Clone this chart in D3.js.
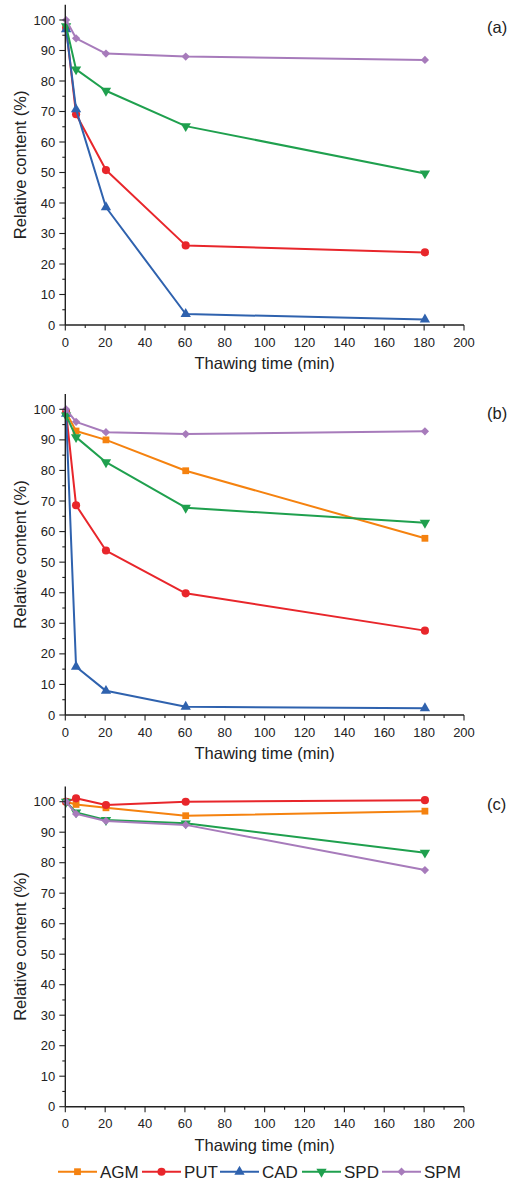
<!DOCTYPE html>
<html><head><meta charset="utf-8">
<script src="https://cdn.jsdelivr.net/npm/d3@7"></script>
<style>
body{margin:0;background:#fff}
svg{display:block}
text{font-family:"Liberation Sans",Arial,sans-serif;fill:#222}
</style>
</head><body>
<svg id="chart" width="512" height="1182"></svg>
<script>
// ---- data ----
const times = [0, 5, 20, 60, 180];
const seriesNames = ["AGM", "PUT", "CAD", "SPD", "SPM"];
const seriesColors = ["#F5820F", "#E8262B", "#2F62AE", "#1FA04E", "#A77BBB"];
const xTickValues = [0, 20, 40, 60, 80, 100, 120, 140, 160, 180, 200];
const yTickValues = [0, 10, 20, 30, 40, 50, 60, 70, 80, 90, 100];
const panelLabels = ["(a)", "(b)", "(c)"];

// panel (a)
const aAGM = null;
const aPUT = [97.5, 69.1, 50.8, 26.1, 23.8];
const aCAD = [97.0, 70.7, 38.6, 3.6, 1.8];
const aSPD = [98.0, 83.8, 76.8, 65.2, 49.7];
const aSPM = [100, 94.0, 89.0, 88.0, 86.9];
// panel (b)
const bAGM = [99.0, 92.9, 90.0, 79.9, 57.8];
const bPUT = [99.0, 68.6, 53.8, 39.8, 27.6];
const bCAD = [98.5, 15.8, 7.9, 2.7, 2.2];
const bSPD = [98.0, 90.9, 82.7, 67.8, 62.9];
const bSPM = [100, 95.9, 92.5, 91.9, 92.8];
// panel (c)
const cAGM = [100, 99.1, 98.0, 95.4, 96.9];
const cPUT = [100, 101.1, 98.9, 100.0, 100.5];
const cCAD = null;
const cSPD = [100, 96.5, 94.0, 92.9, 83.3];
const cSPM = [100, 96.0, 93.7, 92.4, 77.6];

const panelsData = [
  [aAGM, aPUT, aCAD, aSPD, aSPM],
  [bAGM, bPUT, bCAD, bSPD, bSPM],
  [cAGM, cPUT, cCAD, cSPD, cSPM]
];

// ---- layout ----
const svg = d3.select("#chart");
const xLeft = 65.3, xRight = 464;
const panelGeom = [
  {y0: 325, y100: 20, labelY: 33},
  {y0: 715, y100: 409.3, labelY: 419},
  {y0: 1106.7, y100: 801.7, labelY: 810}
];
const axisColor = "#222";

const x = d3.scaleLinear().domain([0, 200]).range([xLeft, xRight]);

const symbolFor = [
  {type: d3.symbolSquare, size: 46, rot: 0},
  {type: d3.symbolCircle, size: 52, rot: 0},
  {type: d3.symbolTriangle, size: 46, rot: 0},
  {type: d3.symbolTriangle, size: 46, rot: 180},
  {type: d3.symbolSquare, size: 34, rot: 45}
];

panelGeom.forEach((pg, pi) => {
  const yTop = pg.y100 - (pg.y0 - pg.y100) * 0.05;
  const y = d3.scaleLinear().domain([0, 105]).range([pg.y0, yTop]);
  const g = svg.append("g");

  // series
  panelsData[pi].forEach((vals, si) => {
    if (!vals) return;
    const pts = times.map((t, i) => [t, vals[i]]);
    const line = d3.line().x(d => x(d[0] + 0.4)).y(d => y(d[1]));
    g.append("path").attr("d", line(pts))
      .attr("fill", "none").attr("stroke", seriesColors[si])
      .attr("stroke-width", 2).attr("stroke-linejoin", "round");
    const sym = symbolFor[si];
    g.selectAll(null).data(pts).enter().append("path")
      .attr("d", d3.symbol().type(sym.type).size(sym.size)())
      .attr("transform", d => `translate(${x(d[0] + 0.4)},${y(d[1])}) rotate(${sym.rot})`)
      .attr("fill", seriesColors[si]);
  });

  // x axis
  const xAxisG = g.append("g").attr("transform", `translate(0,${pg.y0})`);
  xAxisG.append("line").attr("x1", xLeft).attr("x2", xRight).attr("y1", 0).attr("y2", 0)
    .attr("stroke", axisColor).attr("stroke-width", 1.4);
  const xMinor = d3.range(0, 201, 10);
  xAxisG.selectAll(null).data(xMinor).enter().append("line")
    .attr("x1", d => x(d)).attr("x2", d => x(d)).attr("y1", 0)
    .attr("y2", d => d % 20 === 0 ? 5.5 : 3)
    .attr("stroke", axisColor).attr("stroke-width", 1.1);
  xAxisG.selectAll(null).data(xTickValues).enter().append("text")
    .attr("x", d => x(d)).attr("y", 21.5).attr("text-anchor", "middle")
    .attr("font-size", 13).text(d => d);
  xAxisG.append("text").attr("x", (xLeft + xRight) / 2).attr("y", 44)
    .attr("text-anchor", "middle").attr("font-size", 16.5).text("Thawing time (min)");

  // y axis
  const yAxisG = g.append("g");
  yAxisG.append("line").attr("x1", xLeft).attr("x2", xLeft).attr("y1", pg.y0).attr("y2", yTop)
    .attr("stroke", axisColor).attr("stroke-width", 1.4);
  const yMinor = d3.range(0, 101, 5);
  yAxisG.selectAll(null).data(yMinor).enter().append("line")
    .attr("y1", d => y(d)).attr("y2", d => y(d)).attr("x1", xLeft)
    .attr("x2", d => d % 10 === 0 ? xLeft - 6 : xLeft - 3)
    .attr("stroke", axisColor).attr("stroke-width", 1.1);
  yAxisG.selectAll(null).data(yTickValues).enter().append("text")
    .attr("x", xLeft - 10).attr("y", d => y(d) + 4.6).attr("text-anchor", "end")
    .attr("font-size", 13).text(d => d);
  const yMid = (pg.y0 + yTop) / 2;
  yAxisG.append("text").attr("transform", `translate(26,${yMid}) rotate(-90)`)
    .attr("text-anchor", "middle").attr("font-size", 16.5).text("Relative content (%)");

  // panel label
  g.append("text").attr("x", 487).attr("y", pg.labelY).attr("font-size", 16.5).text(panelLabels[pi]);
});

// ---- legend ----
const legendY = 1171.7;
const legendStarts = [58, 142, 220, 302, 382];
seriesNames.forEach((name, si) => {
  const lg = svg.append("g").attr("transform", `translate(${legendStarts[si]},${legendY})`);
  lg.append("line").attr("x1", 0).attr("x2", 39).attr("y1", 0).attr("y2", 0)
    .attr("stroke", seriesColors[si]).attr("stroke-width", 2);
  const sym = symbolFor[si];
  lg.append("path").attr("d", d3.symbol().type(sym.type).size(sym.size)())
    .attr("transform", `translate(19.5,0) rotate(${sym.rot})`).attr("fill", seriesColors[si]);
  lg.append("text").attr("x", 42).attr("y", 6).attr("font-size", 17).text(name);
});
</script>
</body></html>
